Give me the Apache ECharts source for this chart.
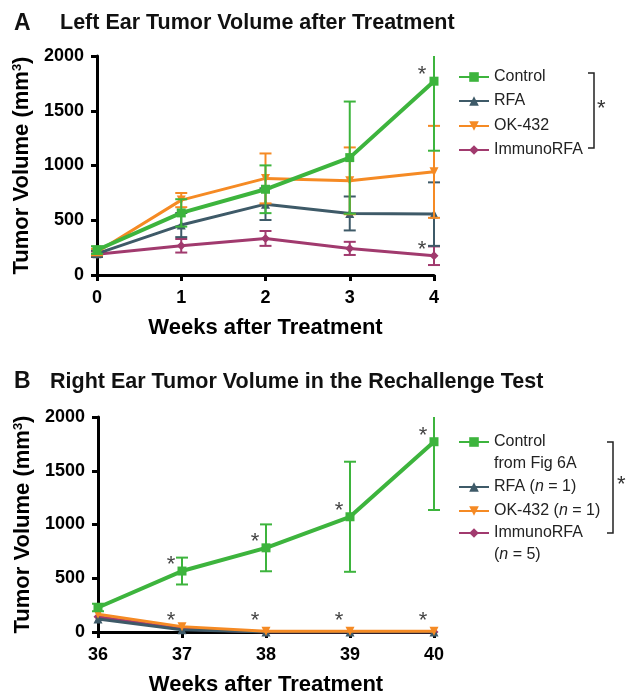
<!DOCTYPE html>
<html><head><meta charset="utf-8">
<script src="https://cdn.jsdelivr.net/npm/echarts@6/dist/echarts.min.js"></script>
<style>html,body{margin:0;padding:0;background:#fff}#c{width:627px;height:697px}</style>
</head><body><div id="c"></div>
<script>
// ---- data ----
const weeksA = [0, 1, 2, 3, 4];
const weeksB = [36, 37, 38, 39, 40];
const yTicks = [0, 500, 1000, 1500, 2000];
const controlMean = [228, 567, 783, 1072, 1770];
const controlSd   = [35, 125, 218, 512, 635];
const rfaMeanA = [195, 456, 647, 562, 556];
const rfaSdA   = [30, 110, 145, 155, 290];
const okMeanA  = [210, 684, 882, 860, 942];
const okSdA    = [30, 65, 228, 305, 420];
const immMeanA = [190, 267, 334, 243, 176];
const immSdA   = [25, 62, 68, 60, 85];
const rfaMeanB = [120, 20, 0, 0, 0];
const okMeanB  = [165, 50, 8, 8, 8];
const immMeanB = [142, 28, 0, 0, 0];
const starsA = [[4, 1770], [4, 176]];
const starsB = [[37, 567], [38, 783], [39, 1072], [40, 1770], [37, 0], [38, 0], [39, 0], [40, 0]];

const C_GREEN = '#3db43d', C_SLATE = '#3e5a68', C_ORANGE = '#f58a24', C_PURPLE = '#a13a6e';
const FONT = 'Liberation Sans';
const YMAX = 2000;

function pairs(xs, ys) { return xs.map((x, i) => [x, ys[i]]); }
function triples(xs, ys, es) { return xs.map((x, i) => [x, ys[i], es[i]]); }

function errSeries(xi, xs, m, s, color, z) {
  return {
    type: 'custom', xAxisIndex: xi, yAxisIndex: xi, z: z, silent: true,
    data: triples(xs, m, s),
    renderItem: function (params, api) {
      const x = api.value(0), mv = api.value(1), sv = api.value(2);
      const hiV = mv + sv, loV = Math.max(mv - sv, 0);
      const top = api.coord([x, Math.min(hiV, YMAX)]);
      const bot = api.coord([x, loV]);
      const w = 6;
      const st = { stroke: color, lineWidth: 2 };
      const ch = [{ type: 'line', shape: { x1: top[0], y1: top[1], x2: bot[0], y2: bot[1] }, style: st }];
      if (hiV <= YMAX) ch.push({ type: 'line', shape: { x1: top[0] - w, y1: top[1], x2: top[0] + w, y2: top[1] }, style: st });
      ch.push({ type: 'line', shape: { x1: bot[0] - w, y1: bot[1], x2: bot[0] + w, y2: bot[1] }, style: st });
      return { type: 'group', children: ch };
    }
  };
}
function lineSeries(name, xi, xs, m, color, symbol, rot, lw, z) {
  return {
    name: name, type: 'line', xAxisIndex: xi, yAxisIndex: xi, z: z,
    data: pairs(xs, m), symbol: symbol, symbolRotate: rot, symbolSize: 9,
    showAllSymbol: true, lineStyle: { color: color, width: lw }, itemStyle: { color: color },
    emphasis: { disabled: true }, animation: false
  };
}
function starSeries(xi, pts, dx, dy) {
  return {
    type: 'custom', xAxisIndex: xi, yAxisIndex: xi, z: 20, silent: true, data: pts,
    renderItem: function (params, api) {
      const p = api.coord([api.value(0), api.value(1)]);
      const isZero = api.value(1) === 0;
      return { type: 'text', style: { x: p[0] + dx, y: p[1] + (isZero ? dy - 5 : dy), text: '*', fill: '#444',
        font: '22px ' + FONT, align: 'center', verticalAlign: 'middle' } };
    }
  };
}

const axisLabelStyle = { color: '#000', fontWeight: 'bold', fontSize: 18, fontFamily: FONT };
function xAxis(gi, mn, mx) {
  return {
    type: 'value', gridIndex: gi, min: mn, max: mx, interval: 1,
    name: 'Weeks after Treatment', nameLocation: 'middle', nameGap: 42,
    nameTextStyle: { color: '#000', fontWeight: 'bold', fontSize: 22, fontFamily: FONT },
    axisLine: { lineStyle: { color: '#000', width: 3 } },
    axisTick: { length: 6, lineStyle: { color: '#000', width: 3 } },
    axisLabel: Object.assign({ margin: 14 }, axisLabelStyle),
    splitLine: { show: false }
  };
}
function yAxis(gi) {
  return {
    type: 'value', gridIndex: gi, min: yTicks[0], max: yTicks[yTicks.length - 1], interval: 500,
    name: 'Tumor Volume (mm{sup|3})', nameLocation: 'middle', nameGap: 62, nameRotate: 90,
    nameTextStyle: { color: '#000', fontWeight: 'bold', fontSize: 22, fontFamily: FONT,
      rich: { sup: { fontSize: 13, fontWeight: 'bold', fontFamily: FONT, color: '#000', verticalAlign: 'top', padding: [0, 0, 10, 0] } } },
    axisLine: { show: true, lineStyle: { color: '#000', width: 3 } },
    axisTick: { show: true, length: 6, lineStyle: { color: '#000', width: 3 } },
    axisLabel: Object.assign({ margin: 13, formatter: function (v) { return String(v); } }, axisLabelStyle),
    splitLine: { show: false }
  };
}

function leg(name, left, top, pad) {
  const ts = { color: '#222', fontSize: 16, fontFamily: FONT, lineHeight: 22,
    rich: { i: { fontStyle: 'italic', fontSize: 16, fontFamily: FONT, color: '#222' } } };
  if (pad) ts.padding = [22, 0, 0, 0];
  return {
    data: [name], left: left, top: top, orient: 'vertical', itemWidth: 30, itemHeight: 12, itemGap: 0,
    padding: 0, selectedMode: false, textStyle: ts,
    formatter: function (n) {
      return n.replace(' from', '\nfrom').replace(' (n = 5)', '\n({i|n} = 5)').replace('(n = 1)', '({i|n} = 1)');
    }
  };
}

const titleStyle = { fontWeight: 'bold', color: '#111', fontFamily: FONT };
const option = {
  animation: false,
  title: [
    { text: 'A', left: 14, top: 12, padding: 0, textStyle: Object.assign({ fontSize: 23 }, titleStyle) },
    { text: 'Left Ear Tumor Volume after Treatment', left: 60, top: 12, padding: 0, textStyle: Object.assign({ fontSize: 21.5 }, titleStyle) },
    { text: 'B', left: 14, top: 370, padding: 0, textStyle: Object.assign({ fontSize: 23 }, titleStyle) },
    { text: 'Right Ear Tumor Volume in the Rechallenge Test', left: 50, top: 371, padding: 0, textStyle: Object.assign({ fontSize: 21.5 }, titleStyle) }
  ],
  grid: [
    { left: 97, top: 56, width: 337, height: 219 },
    { left: 98, top: 417, width: 336, height: 222 }
  ],
  xAxis: [xAxis(0, weeksA[0], weeksA[4]), xAxis(1, weeksB[0], weeksB[4])],
  yAxis: [yAxis(0), yAxis(1)],
  legend: [
    leg('Control', 458, 66), leg('RFA', 458, 90), leg('OK-432', 458, 115), leg('ImmunoRFA', 458, 139),
    leg('Control from Fig 6A', 458, 409, true), leg('RFA (n = 1)', 458, 476), leg('OK-432 (n = 1)', 458, 500),
    leg('ImmunoRFA (n = 5)', 458, 500, true)
  ],
  graphic: [
    { type: 'polyline', shape: { points: [[588, 73], [594, 73], [594, 148], [588, 148]] }, style: { stroke: '#222', lineWidth: 1.5, fill: null } },
    { type: 'text', left: 597, top: 98, style: { text: '*', font: '22px ' + FONT, fill: '#333' } },
    { type: 'polyline', shape: { points: [[607, 442], [613, 442], [613, 533], [607, 533]] }, style: { stroke: '#222', lineWidth: 1.5, fill: null } },
    { type: 'text', left: 617, top: 474, style: { text: '*', font: '22px ' + FONT, fill: '#333' } }
  ],
  series: [
    errSeries(0, weeksA, immMeanA, immSdA, C_PURPLE, 2),
    errSeries(0, weeksA, rfaMeanA, rfaSdA, C_SLATE, 3),
    errSeries(0, weeksA, okMeanA, okSdA, C_ORANGE, 4),
    errSeries(0, weeksA, controlMean, controlSd, C_GREEN, 5),
    lineSeries('ImmunoRFA', 0, weeksA, immMeanA, C_PURPLE, 'diamond', 0, 3, 2),
    lineSeries('RFA', 0, weeksA, rfaMeanA, C_SLATE, 'triangle', 0, 3, 3),
    lineSeries('OK-432', 0, weeksA, okMeanA, C_ORANGE, 'triangle', 180, 3, 4),
    lineSeries('Control', 0, weeksA, controlMean, C_GREEN, 'rect', 0, 4, 5),
    starSeries(0, starsA, -12, -6),
    errSeries(1, weeksB, controlMean, controlSd, C_GREEN, 5),
    lineSeries('ImmunoRFA (n = 5)', 1, weeksB, immMeanB, C_PURPLE, 'diamond', 0, 3, 2),
    lineSeries('RFA (n = 1)', 1, weeksB, rfaMeanB, C_SLATE, 'triangle', 0, 3, 3),
    lineSeries('OK-432 (n = 1)', 1, weeksB, okMeanB, C_ORANGE, 'triangle', 180, 3, 4),
    lineSeries('Control from Fig 6A', 1, weeksB, controlMean, C_GREEN, 'rect', 0, 4, 5),
    starSeries(1, starsB, -11, -6)
  ]
};
const chart = echarts.init(document.getElementById('c'), null, { renderer: 'canvas' });
chart.setOption(option);
</script></body></html>
